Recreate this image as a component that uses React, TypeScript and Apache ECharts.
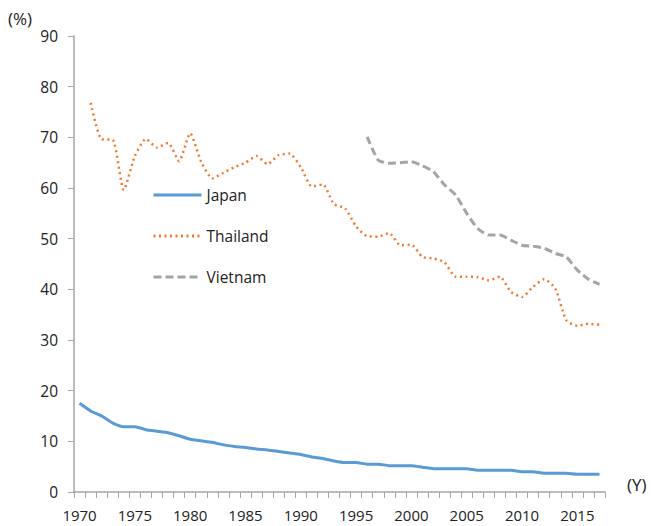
import React, { useEffect, useRef } from "react";
import * as echarts from "echarts";

const years: string[] = [];
for (let y = 1970; y <= 2017; y++) years.push(String(y));

const japan = [17.5, 16, 15, 13.6, 12.9, 12.9, 12.3, 12, 11.7, 11.1, 10.4, 10.1, 9.8, 9.3, 9, 8.8, 8.5, 8.3, 8, 7.7, 7.4, 6.9, 6.6, 6.1, 5.8, 5.8, 5.5, 5.5, 5.2, 5.2, 5.2, 4.9, 4.6, 4.6, 4.6, 4.6, 4.3, 4.3, 4.3, 4.3, 4.0, 4.0, 3.7, 3.7, 3.7, 3.5, 3.5, 3.5];

const thailand = [null, 76.8, 69.6, 69.5, 59.6, 66.3, 69.7, 68, 68.9, 65.3, 70.8, 65.2, 61.9, 63, 64.1, 65, 66.3, 64.7, 66.5, 66.8, 64.1, 60.3, 60.7, 56.8, 56, 52.4, 50.5, 50.4, 51.1, 48.7, 48.8, 46.4, 46.1, 45.3, 42.5, 42.5, 42.4, 41.8, 42.5, 39.5, 38.5, 40.5, 42, 40.2, 33.9, 32.8, 33.2, 33];

const vietnam = [null, null, null, null, null, null, null, null, null, null, null, null, null, null, null, null, null, null, null, null, null, null, null, null, null, null, 70.1, 65.5, 64.9, 65, 65.2, 64.4, 63.2, 60.6, 58.6, 55, 52, 50.7, 50.7, 49.7, 48.7, 48.5, 48.1, 47.1, 46.4, 43.8, 42, 41];

const FONT = "'Open Sans', 'Noto Sans', sans-serif";

export default function App() {
  const ref = useRef<HTMLDivElement>(null);
  useEffect(() => {
    if (!ref.current) return;
    const chart = echarts.init(ref.current, undefined, { renderer: "svg" });
    chart.setOption({
      animation: false,
      backgroundColor: "#ffffff",
      grid: { left: 74, right: 46, top: 36, bottom: 34, containLabel: false },
      legend: {
        orient: "vertical",
        left: 152,
        top: 187,
        padding: 0,
        itemWidth: 48,
        itemHeight: 16,
        itemGap: 25,
        itemStyle: { opacity: 0 },
        lineStyle: { width: 3 },
        textStyle: { fontFamily: FONT, fontSize: 15.5, color: "#222" },
        data: ["Japan", "Thailand", "Vietnam"],
      },
      graphic: [
        { type: "text", left: 8, top: 10, style: { text: "(%)", font: `17px ${FONT}`, fill: "#222" } },
        { type: "text", left: 627, top: 476, style: { text: "(Y)", font: `17px ${FONT}`, fill: "#222" } },
      ],
      xAxis: {
        type: "category",
        data: years,
        boundaryGap: true,
        axisLine: { lineStyle: { color: "#a6a6a6", width: 1.5 } },
        axisTick: { show: true, interval: 0, length: 6, inside: false, lineStyle: { color: "#a6a6a6" } },
        axisLabel: { interval: 4, margin: 15, fontFamily: FONT, fontSize: 15, color: "#222" },
        splitLine: { show: false },
      },
      yAxis: {
        type: "value",
        min: 0,
        max: 90,
        interval: 10,
        axisLine: { show: true, lineStyle: { color: "#a6a6a6", width: 1.5 } },
        axisTick: { show: true, length: 6, lineStyle: { color: "#a6a6a6" } },
        axisLabel: { margin: 16, fontFamily: FONT, fontSize: 15.5, color: "#222" },
        splitLine: { show: false },
      },
      series: [
        {
          name: "Japan",
          type: "line",
          data: japan,
          showSymbol: false,
          symbol: "none",
          smooth: 0.2,
          lineStyle: { color: "#5b9bd5", width: 3 },
          itemStyle: { color: "#5b9bd5" },
        },
        {
          name: "Thailand",
          type: "line",
          data: thailand,
          showSymbol: false,
          symbol: "none",
          smooth: 0.2,
          lineStyle: { color: "#ed7d31", width: 2.5, type: [2, 3.5] },
          itemStyle: { color: "#ed7d31" },
        },
        {
          name: "Vietnam",
          type: "line",
          data: vietnam,
          showSymbol: false,
          symbol: "none",
          smooth: 0.2,
          lineStyle: { color: "#a5a5a5", width: 3, type: [8, 4] },
          itemStyle: { color: "#a5a5a5" },
        },
      ],
    });
    return () => chart.dispose();
  }, []);
  return <div ref={ref} style={{ width: 651, height: 526, position: "absolute", left: 0, top: 0 }} />;
}
